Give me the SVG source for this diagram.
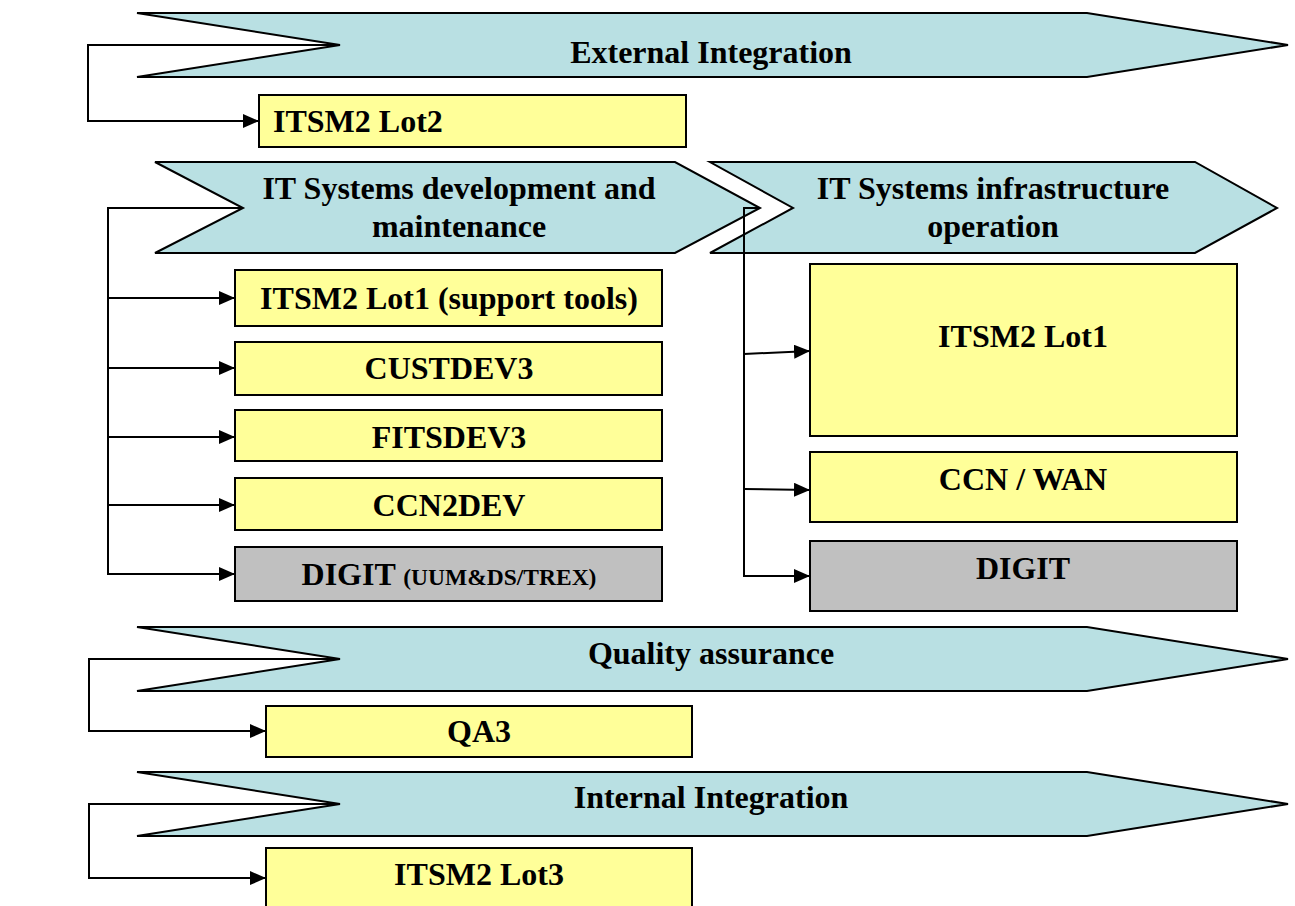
<svg xmlns="http://www.w3.org/2000/svg" width="1295" height="906" viewBox="0 0 1295 906">
  <style>
    .band { fill: #b9e0e3; stroke: #000; stroke-width: 2; stroke-linejoin: miter; }
    .box { fill: #ffff99; stroke: #000; stroke-width: 2; }
    .grey { fill: #c0c0c0; stroke: #000; stroke-width: 2; }
    .lbl { font-family: "Liberation Serif", "Times New Roman", serif; font-weight: bold; font-size: 32px; fill: #000; text-anchor: middle; }
    .small { font-size: 23.5px; }
    .wire { fill: none; stroke: #000; stroke-width: 2; }
  </style>
  <defs>
    <marker id="arrow" markerWidth="16" markerHeight="14" refX="16" refY="7" orient="auto" markerUnits="userSpaceOnUse">
      <path d="M0,0 L16,7 L0,14 Z" fill="#000"/>
    </marker>
  </defs>

  <rect width="1295" height="906" fill="#fff"/>

  <!-- process bands -->
  <g id="band-external">
    <polygon class="band" points="137,13 1087,13 1288,45 1087,77 137,77 340,45"/>
    <text class="lbl" x="711" y="63">External Integration</text>
  </g>
  <g id="band-dev">
    <polygon class="band" points="155,162 675,162 760,208 675,253 155,253 243,208"/>
    <text class="lbl" x="459" y="199">IT Systems development and</text>
    <text class="lbl" x="459" y="237">maintenance</text>
  </g>
  <g id="band-infra">
    <polygon class="band" points="710,162 1195,162 1277,208 1195,253 710,253 793,208"/>
    <text class="lbl" x="993" y="199">IT Systems infrastructure</text>
    <text class="lbl" x="993" y="237">operation</text>
  </g>
  <g id="band-qa">
    <polygon class="band" points="137,627 1087,627 1288,659 1087,691 137,691 340,659"/>
    <text class="lbl" x="711" y="664">Quality assurance</text>
  </g>
  <g id="band-internal">
    <polygon class="band" points="137,772 1087,772 1288,804 1087,836 137,836 340,804"/>
    <text class="lbl" x="711" y="808">Internal Integration</text>
  </g>

  <!-- contract boxes -->
  <g id="itsm2-lot2">
    <rect class="box" x="259" y="95" width="427" height="52"/>
    <text class="lbl" x="273" y="132" style="text-anchor:start">ITSM2 Lot2</text>
  </g>
  <g id="itsm2-lot1-tools">
    <rect class="box" x="235" y="270" width="427" height="56"/>
    <text class="lbl" x="449" y="309">ITSM2 Lot1 (support tools)</text>
  </g>
  <g id="custdev3">
    <rect class="box" x="235" y="342" width="427" height="53"/>
    <text class="lbl" x="449" y="379">CUSTDEV3</text>
  </g>
  <g id="fitsdev3">
    <rect class="box" x="235" y="410" width="427" height="51"/>
    <text class="lbl" x="449" y="448">FITSDEV3</text>
  </g>
  <g id="ccn2dev">
    <rect class="box" x="235" y="478" width="427" height="52"/>
    <text class="lbl" x="449" y="516">CCN2DEV</text>
  </g>
  <g id="digit-dev">
    <rect class="grey" x="235" y="547" width="427" height="54"/>
    <text class="lbl" x="449" y="585">DIGIT <tspan class="small">(UUM&amp;DS/TREX)</tspan></text>
  </g>
  <g id="itsm2-lot1">
    <rect class="box" x="810" y="264" width="427" height="172"/>
    <text class="lbl" x="1023" y="347">ITSM2 Lot1</text>
  </g>
  <g id="ccn-wan">
    <rect class="box" x="810" y="452" width="427" height="70"/>
    <text class="lbl" x="1023" y="490">CCN / WAN</text>
  </g>
  <g id="digit-ops">
    <rect class="grey" x="810" y="541" width="427" height="70"/>
    <text class="lbl" x="1023" y="579">DIGIT</text>
  </g>
  <g id="qa3">
    <rect class="box" x="266" y="706" width="426" height="51"/>
    <text class="lbl" x="479" y="742">QA3</text>
  </g>
  <g id="itsm2-lot3">
    <rect class="box" x="266" y="848" width="426" height="60"/>
    <text class="lbl" x="479" y="885">ITSM2 Lot3</text>
  </g>

  <!-- connectors -->
  <g id="connectors">
    <polyline class="wire" points="340,45 88,45 88,121 259,121" marker-end="url(#arrow)"/>

    <polyline class="wire" points="243,208 108,208 108,574 235,574" marker-end="url(#arrow)"/>
    <line class="wire" x1="108" y1="298" x2="235" y2="298" marker-end="url(#arrow)"/>
    <line class="wire" x1="108" y1="368" x2="235" y2="368" marker-end="url(#arrow)"/>
    <line class="wire" x1="108" y1="437" x2="235" y2="437" marker-end="url(#arrow)"/>
    <line class="wire" x1="108" y1="505" x2="235" y2="505" marker-end="url(#arrow)"/>

    <polyline class="wire" points="760,208 744,208 744,576 810,576" marker-end="url(#arrow)"/>
    <line class="wire" x1="744" y1="354" x2="810" y2="351" marker-end="url(#arrow)"/>
    <line class="wire" x1="744" y1="489" x2="810" y2="490" marker-end="url(#arrow)"/>

    <polyline class="wire" points="340,659 89,659 89,731 266,731" marker-end="url(#arrow)"/>
    <polyline class="wire" points="340,804 89,804 89,878 266,878" marker-end="url(#arrow)"/>
  </g>
</svg>
